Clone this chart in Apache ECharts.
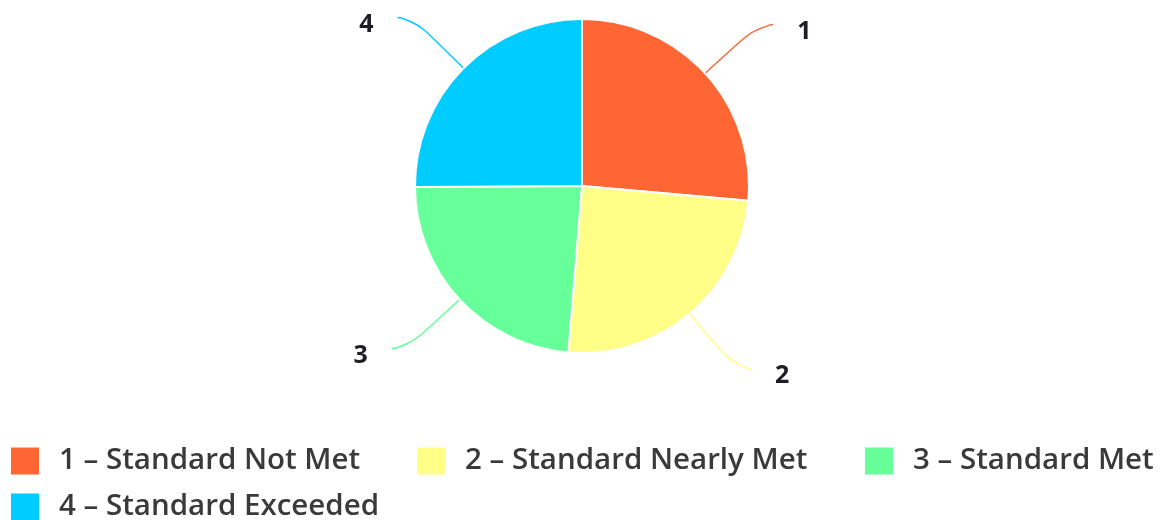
<!DOCTYPE html>
<html>
<head>
<meta charset="utf-8">
<script src="https://cdn.jsdelivr.net/npm/echarts@6/dist/echarts.min.js"></script>
<style>
html,body{margin:0;padding:0;background:#fff;}
#chart{width:1166px;height:520px;}
</style>
</head>
<body>
<div id="chart"></div>
<script>
var labels = ['1', '2', '3', '4'];
var categories = ['1 – Standard Not Met', '2 – Standard Nearly Met', '3 – Standard Met', '4 – Standard Exceeded'];
var values = [26.4, 24.9, 23.6, 25.1];
var colors = ['#FF6633', '#FFFF88', '#66FF99', '#00CCFF'];

var legendPos = [[11, 446], [417, 446], [865, 446], [11, 492]];

var chart = echarts.init(document.getElementById('chart'));

var legends = categories.map(function (c, i) {
  return {
    left: legendPos[i][0],
    top: legendPos[i][1],
    padding: 0,
    orient: 'horizontal',
    itemWidth: 28,
    itemHeight: 27,
    itemGap: 0,
    icon: 'rect',
    itemStyle: { borderWidth: 0 },
    data: [c],
    formatter: function (name) { return '{t|' + name + '}'; },
    textStyle: {
      rich: {
        t: {
          padding: [0, 0, 0, 15],
          lineHeight: 27,
          fontFamily: 'Open Sans',
          fontWeight: 600,
          fontSize: 29.5,
          color: '#3a3a3a'
        }
      }
    }
  };
});

chart.setOption({
  animation: false,
  color: colors,
  legend: legends,
  series: [{
    type: 'pie',
    center: [582, 186],
    radius: 167,
    startAngle: 90,
    clockwise: true,
    avoidLabelOverlap: false,
    itemStyle: { borderColor: '#fff', borderWidth: 2 },
    emphasis: { disabled: true },
    label: {
      show: true,
      formatter: function (p) { return '{n|' + labels[p.dataIndex] + '}'; },
      distanceToLabelLine: 24,
      rich: {
        n: {
          fontFamily: 'Open Sans',
          fontWeight: 'bold',
          fontSize: 25,
          color: '#1e1e28',
          padding: [14, 0, 0, 0]
        }
      }
    },
    labelLine: {
      show: true,
      length: 72,
      length2: 15,
      smooth: 0.8,
      lineStyle: { width: 1.5 }
    },
    data: categories.map(function (c, i) { return { name: c, value: values[i] }; })
  }]
});
</script>
</body>
</html>
